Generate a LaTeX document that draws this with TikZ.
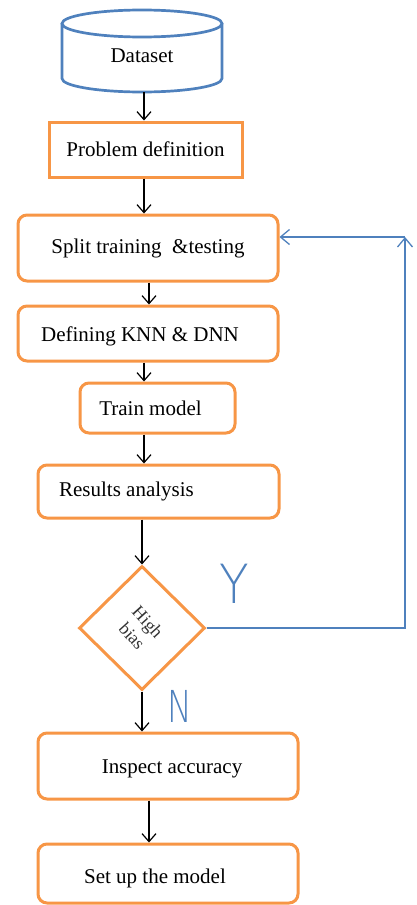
\documentclass[tikz,border=0pt]{standalone}
\usepackage{fontspec}
\setmainfont{Liberation Serif}
\newfontfamily\thinfont{DejaVuSans-ExtraLight}[Extension=.ttf]
\usetikzlibrary{arrows.meta,shapes.geometric,calc}
\definecolor{orng}{RGB}{247,150,70}
\definecolor{blu}{RGB}{79,129,189}
\begin{document}
\begin{tikzpicture}[x=1pt,y=-1pt,
  every label/.style={font=\fontsize{21}{25}\selectfont, inner sep=0pt},
  box/.style={draw=orng, line width=3pt, fill=white, inner sep=0pt, font=\fontsize{21}{25}\selectfont},
  rbox/.style={box, rounded corners=9pt},
  arr/.style={line width=1.2pt, -{Straight Barb[length=8pt,width=14pt,line width=1.2pt]}},
  barr/.style={draw=blu, line width=1.3pt, -{Straight Barb[length=9pt,width=15pt,line width=1.3pt]}},
  yn/.style={text=blu, inner sep=0pt, font=\thinfont}
]
\useasboundingbox (0,0) rectangle (417,905);
% cylinder
\draw[draw=blu, line width=2.7pt, fill=white]
  (62,23.5) -- (62,78.5) arc[start angle=180, end angle=0, x radius=80, y radius=13.5] -- (222,23.5);
\draw[draw=blu, line width=2.7pt, fill=white] (142,23.5) ellipse[x radius=80, y radius=13.5];
\node[inner sep=0pt, minimum width=160pt, minimum height=72pt, font=\fontsize{21}{25}\selectfont] (data) at (142,56) {Dataset};

\node[box, minimum width=193pt, minimum height=55pt] (prob) at (145.5,149.5) {Problem definition};
\node[rbox, minimum width=260pt, minimum height=66pt] (split) at (148,248) {Split training\ \ \&testing};
\node[rbox, minimum width=260pt, minimum height=55pt,
  label={[xshift=-8pt,yshift=-2.5pt]center:Defining KNN \& DNN}] (def) at (148,333.5) {};
\node[rbox, minimum width=155pt, minimum height=50pt,
  label={[xshift=-7pt]center:Train model}] (train) at (157.5,408) {};
\node[rbox, minimum width=241pt, minimum height=53pt,
  label={[xshift=-32pt]center:Results analysis}] (res) at (158.5,491.5) {};
\node[diamond, draw=orng, line width=3pt, fill=white, minimum width=126pt, minimum height=124pt, inner sep=0pt] (dia) at (142,628) {};
\node[rotate=-48, align=center, inner sep=0pt, text=black!80, font=\fontsize{18}{21}\selectfont] (hb) at (140,629) {High\\bias};
\node[rbox, minimum width=260pt, minimum height=66pt,
  label={[xshift=4pt,yshift=-3pt]center:Inspect accuracy}] (insp) at (168,766) {};
\node[rbox, minimum width=260pt, minimum height=59pt,
  label={[xshift=-13pt,yshift=-4.5pt]center:Set up the model}] (setup) at (168,873.5) {};

\node[yn] (ylab) at (234,584) {\fontsize{54}{54}\selectfont\scalebox{0.9}[1]{Y}};
\node[yn] (nlab) at (180,706) {\fontsize{44}{44}\selectfont\scalebox{0.75}[1]{N}};

\coordinate (col) at (144,0);
\coordinate (colb) at (149,0);
\coordinate (corner) at (405,237);

\draw[arr] (data.south -| col) -- (prob.north -| col);
\draw[arr] (prob.south -| col) -- (split.north -| col);
\draw[arr] (split.south -| colb) -- (def.north -| colb);
\draw[arr] (def.south -| col) -- (train.north -| col);
\draw[arr] (train.south -| col) -- (res.north -| col);
\draw[arr] (res.south -| dia.north) -- (dia.north);
\draw[arr] (dia.south) -- (insp.north -| dia.south);
\draw[arr] (insp.south -| colb) -- (setup.north -| colb);

\draw[barr] (dia.east) -| (corner);
\draw[barr] (corner) -- (corner -| split.east);
\end{tikzpicture}
\end{document}
